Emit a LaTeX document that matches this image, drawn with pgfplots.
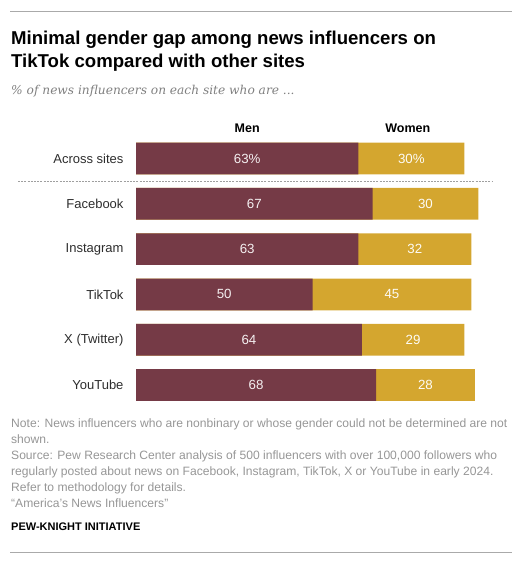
\documentclass[border=0pt]{standalone}
\usepackage{fontspec}
\setmainfont{Liberation Sans}
\newfontfamily\serifit{DejaVu Serif}
\usepackage{pgfplots}
\usepackage{pgfplotstable}
\pgfplotsset{compat=1.18}
\definecolor{maroon}{RGB}{117,58,70}
\definecolor{gold}{RGB}{212,166,47}
\definecolor{notegray}{RGB}{150,150,150}
\definecolor{labgray}{RGB}{45,45,45}
\definecolor{rulegray}{RGB}{170,170,170}

\pgfplotstableread{
y men women mlab wlab
0 63 30 63\% 30\%
1 67 30 67 30
2 63 32 63 32
3 50 45 50 45
4 64 29 64 29
5 68 28 68 28
}\data

\begin{document}
\begin{tikzpicture}[x=1pt,y=1pt]
\path (0,0) rectangle (523,568);
\draw[rulegray, line width=1pt] (10,556) -- (512,556);
\node[anchor=base west, inner sep=0, font=\fontsize{18.6}{23}\selectfont\bfseries] at (11,523) {Minimal gender gap among news influencers on};
\node[anchor=base west, inner sep=0, font=\fontsize{18.6}{23}\selectfont\bfseries] at (11,500) {TikTok compared with other sites};
\node[anchor=base west, inner sep=0, font=\serifit\itshape\fontsize{12.2}{16}\selectfont, text=gray] at (11,473) {\% of news influencers on each site who are ...};

\begin{axis}[
  at={(136pt,160.35pt)}, anchor=south west,
  scale only axis, width=353pt, height=271.8pt,
  xmin=0, xmax=100, ymin=-0.5, ymax=5.5, y dir=reverse,
  axis line style={draw=none}, tick style={draw=none},
  xtick=\empty, ytick={0,...,5},
  yticklabels={Across sites, Facebook, Instagram, TikTok, X (Twitter), YouTube},
  yticklabel style={font=\fontsize{13}{15}\selectfont, text=labgray, xshift=-9pt},
  clip=false,
]
\addplot[xbar, bar width=0.7, bar shift=0pt, fill=gold, draw=none] table[x expr=\thisrow{men}+\thisrow{women}, y=y]{\data};
\addplot[xbar, bar width=0.7, bar shift=0pt, fill=maroon, draw=none] table[x=men, y=y]{\data};
\addplot[only marks, mark=none, point meta=explicit symbolic, nodes near coords,
  every node near coord/.style={anchor=center, font=\fontsize{13.3}{15}\selectfont, text=white!92!maroon}]
  table[x expr=\thisrow{men}/2, y=y, meta=mlab]{\data};
\addplot[only marks, mark=none, point meta=explicit symbolic, nodes near coords,
  every node near coord/.style={anchor=center, font=\fontsize{13.3}{15}\selectfont, text=white!95!gold}]
  table[x expr=\thisrow{men}+\thisrow{women}/2, y=y, meta=wlab]{\data};
\node[anchor=base, font=\fontsize{12.5}{15}\selectfont\bfseries, yshift=3pt] at (axis cs:31.5,-0.5) {Men};
\node[anchor=base, font=\fontsize{12.5}{15}\selectfont\bfseries, yshift=3pt] at (axis cs:77,-0.5) {Women};
\end{axis}

\draw[gray!75, dash pattern=on 2pt off 1.2pt, line width=0.6pt] (18,387) -- (493,387);

\begin{scope}[every node/.style={anchor=base west, inner sep=0, font=\fontsize{12.1}{16}\selectfont, text=notegray}]
\node at (11,140) {Note: News influencers who are nonbinary or whose gender could not be determined are not};
\node at (11,124) {shown.};
\node at (11,108) {Source: Pew Research Center analysis of 500 influencers with over 100,000 followers who};
\node at (11,92) {regularly posted about news on Facebook, Instagram, TikTok, X or YouTube in early 2024.};
\node at (11,76) {Refer to methodology for details.};
\node at (11,60) {“America’s News Influencers”};
\end{scope}
\node[anchor=base west, inner sep=0, font=\fontsize{11}{13}\selectfont\bfseries] at (11,37) {PEW-KNIGHT INITIATIVE};
\draw[rulegray, line width=1pt] (10,15) -- (512,15);
\end{tikzpicture}
\end{document}
